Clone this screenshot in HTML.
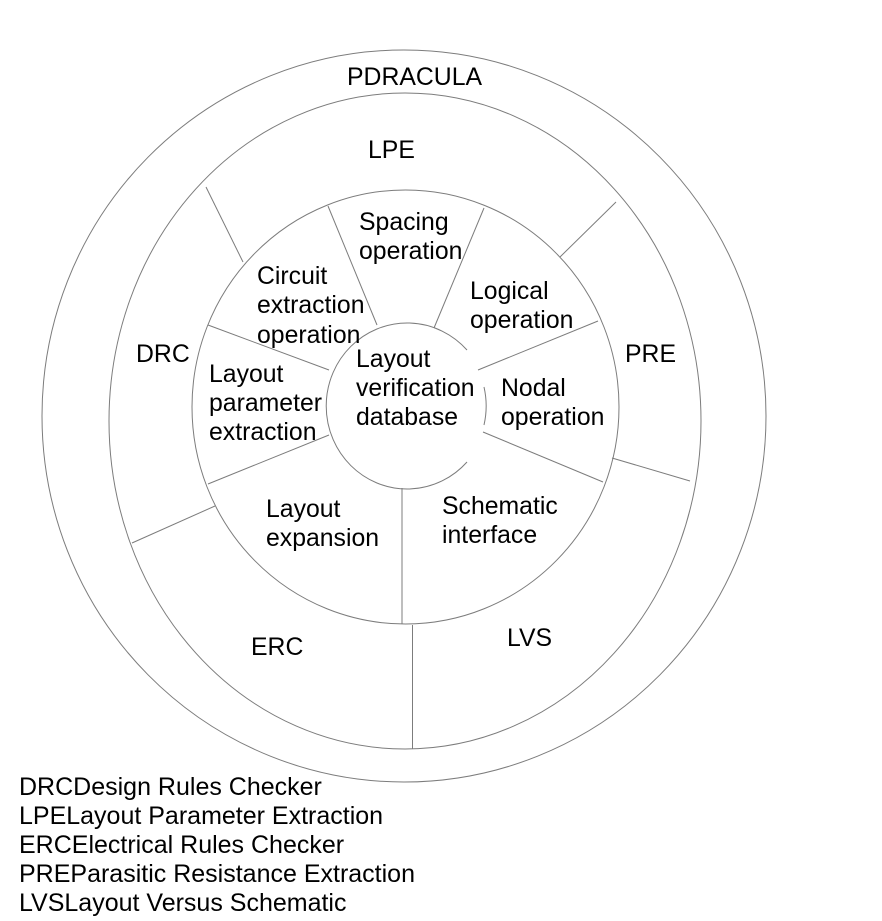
<!DOCTYPE html>
<html><head><meta charset="utf-8"><style>
html,body{margin:0;padding:0;background:#fff;width:882px;height:921px;overflow:hidden}
svg{display:block}
text{font-family:"Liberation Sans",sans-serif;font-size:24.8px;fill:#000}
text.k{font-size:25px}
.l{stroke:#7c7c7c;stroke-width:1;fill:none}
</style></head><body>
<svg width="882" height="921" viewBox="0 0 882 921" xmlns="http://www.w3.org/2000/svg">
<ellipse class="l" cx="404" cy="416" rx="362" ry="366"/>
<ellipse class="l" cx="405" cy="421" rx="296" ry="328"/>
<ellipse class="l" cx="405.5" cy="407" rx="213.5" ry="217"/>
<path class="l" d="M467 350 A81 83 0 1 0 467 462"/>
<path class="l" d="M484 387 A81 83 0 0 1 484 425"/>
<line class="l" x1="328" y1="206" x2="377" y2="325"/>
<line class="l" x1="484" y1="208" x2="434" y2="328"/>
<line class="l" x1="208" y1="325" x2="329" y2="370"/>
<line class="l" x1="208" y1="484" x2="329" y2="435"/>
<line class="l" x1="402" y1="488" x2="402" y2="624"/>
<line class="l" x1="478" y1="370" x2="598" y2="321"/>
<line class="l" x1="483" y1="432" x2="603" y2="482"/>
<line class="l" x1="206" y1="187" x2="243" y2="262"/>
<line class="l" x1="616" y1="202" x2="560" y2="257"/>
<line class="l" x1="612" y1="458" x2="690" y2="481"/>
<line class="l" x1="215" y1="506" x2="132" y2="543"/>
<line class="l" x1="412.5" y1="625" x2="412.5" y2="749"/>
<text x="347" y="85">PDRACULA</text>
<text x="368" y="158">LPE</text>
<text x="136" y="362">DRC</text>
<text x="625" y="362">PRE</text>
<text x="251" y="655">ERC</text>
<text x="507" y="646">LVS</text>
<text x="359" y="230">Spacing</text>
<text x="359" y="259">operation</text>
<text x="257" y="284">Circuit</text>
<text x="257" y="313">extraction</text>
<text x="257" y="343">operation</text>
<text x="209" y="382">Layout</text>
<text x="209" y="411">parameter</text>
<text x="209" y="440">extraction</text>
<text x="356" y="367">Layout</text>
<text x="356" y="396">verification</text>
<text x="356" y="425">database</text>
<text x="470" y="299">Logical</text>
<text x="470" y="328">operation</text>
<text x="501" y="396">Nodal</text>
<text x="501" y="425">operation</text>
<text x="442" y="514">Schematic</text>
<text x="442" y="543">interface</text>
<text x="266" y="517">Layout</text>
<text x="266" y="546">expansion</text>
<text class="k" x="19" y="795">DRCDesign Rules Checker</text>
<text class="k" x="19" y="824">LPELayout Parameter Extraction</text>
<text class="k" x="19" y="853">ERCElectrical Rules Checker</text>
<text class="k" x="19" y="882">PREParasitic Resistance Extraction</text>
<text class="k" x="19" y="911">LVSLayout Versus Schematic</text>
</svg>
</body></html>
